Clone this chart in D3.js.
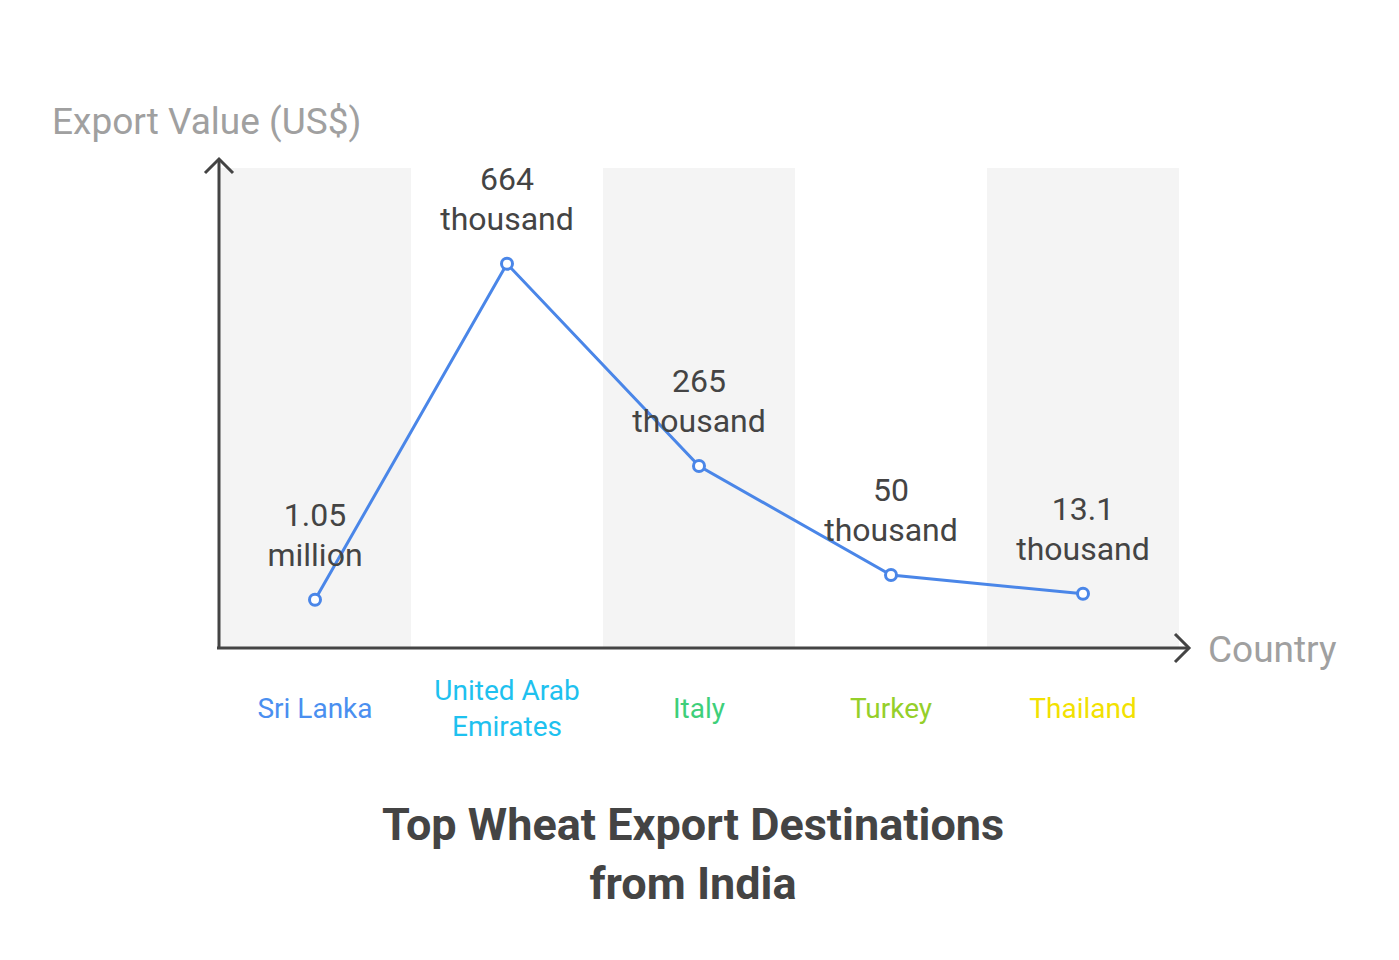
<!DOCTYPE html>
<html><head><meta charset="utf-8">
<script src="https://cdn.jsdelivr.net/npm/d3@7"></script>
<style>body{margin:0;background:#fff}text{font-family:Roboto,sans-serif}</style>
</head><body><svg id="c" width="1399" height="960"></svg>
<script>
const categories = ["Sri Lanka","United Arab Emirates","Italy","Turkey","Thailand"];
const values = [1.05, 664, 265, 50, 13.1];
const valueLabels = [["1.05","million"],["664","thousand"],["265","thousand"],["50","thousand"],["13.1","thousand"]];
const catLines = [["Sri Lanka"],["United Arab","Emirates"],["Italy"],["Turkey"],["Thailand"]];
const catColors = ["#4a8ff0","#1ec1ef","#3ecf7a","#95cf2a","#f2e100"];

const svg = d3.select("#c");
const x = d3.scaleBand().domain(categories).range([219,1179]);
const y = d3.scaleLinear().domain([-94,853]).range([648,168]);

svg.selectAll("rect.band").data(categories.filter((d,i)=>i%2===0)).enter().append("rect")
  .attr("x",d=>x(d)).attr("y",168).attr("width",x.bandwidth()).attr("height",648-168).attr("fill","#f4f4f4");

const ax="#444";
svg.append("line").attr("x1",219).attr("y1",648).attr("x2",219).attr("y2",160).attr("stroke",ax).attr("stroke-width",3);
svg.append("path").attr("d","M205,173 L219,159 L233,173").attr("fill","none").attr("stroke",ax).attr("stroke-width",3);
svg.append("line").attr("x1",217).attr("y1",648).attr("x2",1188).attr("y2",648).attr("stroke",ax).attr("stroke-width",3);
svg.append("path").attr("d","M1175,634 L1189,648 L1175,662").attr("fill","none").attr("stroke",ax).attr("stroke-width",3);

svg.append("text").attr("x",52).attr("y",134).attr("font-size",37).attr("fill","#a0a0a0").text("Export Value (US$)");
svg.append("text").attr("x",1208).attr("y",662).attr("font-size",37).attr("fill","#a0a0a0").text("Country");

const cx = d=>x(d)+x.bandwidth()/2;
const line = d3.line().x((d,i)=>cx(categories[i])).y(d=>y(d));
svg.append("path").datum(values).attr("d",line).attr("fill","none").attr("stroke","#4a86e8").attr("stroke-width",3);
svg.selectAll("circle").data(values).enter().append("circle")
  .attr("cx",(d,i)=>cx(categories[i])).attr("cy",d=>y(d)).attr("r",5.5)
  .attr("fill","#fff").attr("stroke","#4a86e8").attr("stroke-width",3);

values.forEach((v,i)=>{
  const t=svg.append("text").attr("text-anchor","middle").attr("font-size",32).attr("fill","#444");
  valueLabels[i].forEach((s,j)=>t.append("tspan").attr("x",cx(categories[i])).attr("y",y(v)-74+j*40).text(s));
});
categories.forEach((c,i)=>{
  const lines=catLines[i];
  const t=svg.append("text").attr("text-anchor","middle").attr("font-size",28).attr("fill",catColors[i]);
  const y0 = lines.length===1?718:700;
  lines.forEach((s,j)=>t.append("tspan").attr("x",cx(c)).attr("y",y0+j*36).text(s));
});
const tt=svg.append("text").attr("text-anchor","middle").attr("font-size",45).attr("font-weight","bold").attr("fill","#444");
tt.append("tspan").attr("x",693).attr("y",840).text("Top Wheat Export Destinations");
tt.append("tspan").attr("x",693).attr("y",899).text("from India");
</script></body></html>
